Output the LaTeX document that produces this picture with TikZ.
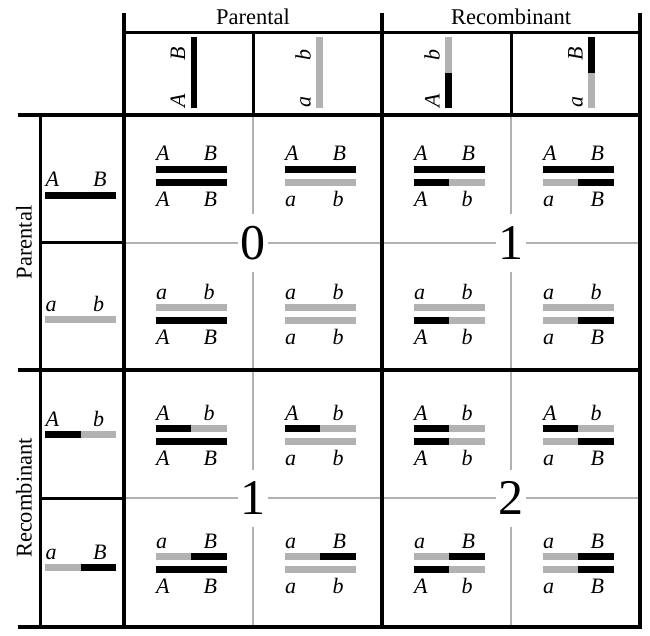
\documentclass[tikz,border=0pt]{standalone}
\usepackage{fontspec}
\setmainfont{Liberation Serif}

% one gamete: bar split in two halves, two allele letters
\newcommand{\gamete}[6]{%
  \draw[bar,draw=#2] (-35.5,0) -- (0,0);
  \draw[bar,draw=#3] (0,0) -- (35.5,0);
  \node[allele] (#1-l) at (-35,#6) {#4};
  \node[allele] (#1-r) at (12.5,#6) {#5};
}

\begin{document}
\begin{tikzpicture}[x=1pt,y=-1pt,
bar/.style={line width=6.7pt},
allele/.style={anchor=base west,inner sep=0pt,font=\fontsize{22}{26}\selectfont\itshape},
heading/.style={anchor=base,inner sep=0pt,font=\fontsize{22.5}{27}\selectfont},
count/.style={fill=white,inner sep=0pt,minimum width=30pt,minimum height=57pt,font=\fontsize{50}{60}\selectfont},
thickline/.style={line width=4pt},
thinline/.style={line width=3pt},
grayline/.style={line width=2.7pt,draw=chromgray}]

\colorlet{chromgray}{black!30}

\useasboundingbox (0,0) rectangle (650,636);

\foreach \y in {243,498} \draw[grayline] (124,\y) -- (640,\y);
\foreach \x in {253,511} \draw[grayline] (\x,115) -- (\x,627);

% column gametes
\foreach \n/\x/\l/\r/\a/\b in {1/194/black/black/A/B, 2/319.5/chromgray/chromgray/a/b,
    3/448.5/black/chromgray/A/b, 4/591.5/chromgray/black/a/B}{
  \begin{scope}[shift={(\x,73)},rotate=90,transform shape]
    \gamete{col\n}{\l}{\r}{\a}{\b}{-9}
  \end{scope}
}

% row gametes
\foreach \n/\y/\l/\r/\a/\b in {1/195.5/black/black/A/B, 2/319.5/chromgray/chromgray/a/b,
    3/434.5/black/chromgray/A/b, 4/567.5/chromgray/black/a/B}{
  \begin{scope}[shift={(80.5,\y)}]
    \gamete{row\n}{\l}{\r}{\a}{\b}{-8.5}
  \end{scope}
}

% zygotes
\foreach \r/\y/\rl/\rr/\ra/\rb in {1/169.5/black/black/A/B, 2/307.5/chromgray/chromgray/a/b,
    3/428.5/black/chromgray/A/b, 4/556.5/chromgray/black/a/B}{
  \foreach \c/\x/\cl/\cr/\ca/\cb in {1/191/black/black/A/B, 2/320/chromgray/chromgray/a/b,
      3/449/black/chromgray/A/b, 4/578/chromgray/black/a/B}{
    \begin{scope}[shift={(\x,\y)}]
      \gamete{up\r\c}{\rl}{\rr}{\ra}{\rb}{-8.5}
    \end{scope}
    \begin{scope}[shift={(\x,\y+13)}]
      \gamete{down\r\c}{\cl}{\cr}{\ca}{\cb}{24}
    \end{scope}
  }
}

\node[count] (n11) at (253,243) {0};
\node[count] (n12) at (511,243) {1};
\node[count] (n21) at (253,498) {1};
\node[count] (n22) at (511,498) {2};

\node[heading] (colpar) at (253,25) {Parental};
\node[heading] (colrec) at (511,25) {Recombinant};
\node[heading,rotate=90] (rowpar) at (31.5,242.5) {Parental};
\node[heading,rotate=90] (rowrec) at (31.5,498) {Recombinant};

\foreach \x in {124,382,640} \draw[thickline] (\x,12.7) -- (\x,629);
\foreach \y in {115,370,627} \draw[thickline] (18,\y) -- (642,\y);
\draw[thinline] (124,33) -- (640,33);
\foreach \x in {253,511} \draw[thinline] (\x,33) -- (\x,115);
\draw[thinline] (40,115) -- (40,627);
\foreach \y in {243,498} \draw[thinline] (40,\y) -- (124,\y);

\end{tikzpicture}
\end{document}
